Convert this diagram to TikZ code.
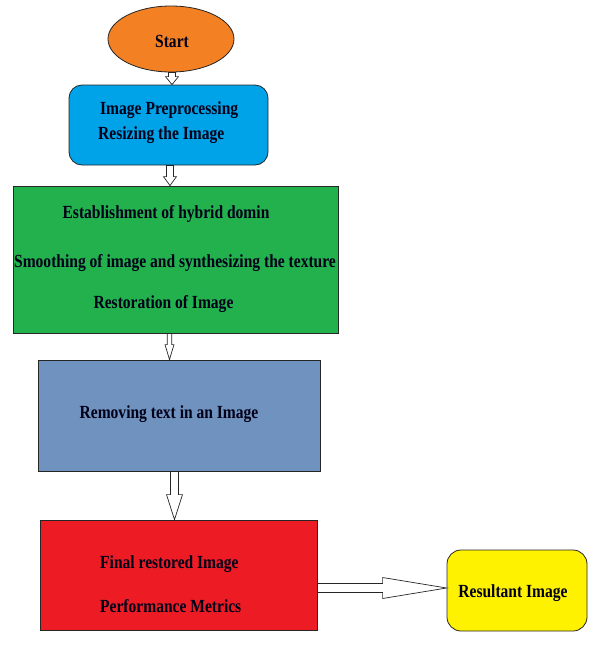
\documentclass[tikz,border=0pt]{standalone}
\usepackage{fontspec}
\setmainfont{Liberation Serif}[FakeStretch=0.84]
\usetikzlibrary{shapes.geometric,calc}
\definecolor{cstart}{RGB}{244,128,36}
\definecolor{cprep}{RGB}{0,162,232}
\definecolor{cgreen}{RGB}{34,177,76}
\definecolor{csteel}{RGB}{112,146,190}
\definecolor{cred}{RGB}{237,28,36}
\definecolor{cyellow}{RGB}{255,242,0}
\tikzset{
  box/.style={draw=black!85, line width=0.8pt, inner sep=0pt},
  txt/.style={font=\fontsize{18.5}{20}\selectfont\bfseries, inner sep=0pt, text=black!90!blue},
  blockarrow/.style={draw=black!85, fill=white, line width=0.7pt, line join=miter}
}
% vertical hollow block arrow: from, to, x, shaft half, head half, head length
\newcommand\blockdown[6]{%
  \draw[blockarrow] let \p1=(#1.south), \p2=(#2.north), \p3=(#3,0) in
    (\x3-#4,\y1) -- (\x3+#4,\y1) -- (\x3+#4,\y2+#6) -- (\x3+#5,\y2+#6) --
    (\x3,\y2) -- (\x3-#5,\y2+#6) -- (\x3-#4,\y2+#6) -- cycle;}
% horizontal hollow block arrow: from, to, y, shaft half, head half, head length
\newcommand\blockright[6]{%
  \draw[blockarrow] let \p1=(#1.east), \p2=(#2.west), \p3=(0,#3) in
    (\x1,\y3+#4) -- (\x2-#6,\y3+#4) -- (\x2-#6,\y3+#5) -- (\x2,\y3) --
    (\x2-#6,\y3-#5) -- (\x2-#6,\y3-#4) -- (\x1,\y3-#4) -- cycle;}
\begin{document}
\begin{tikzpicture}[x=1pt,y=-1pt]
\useasboundingbox[fill=white] (0,0) rectangle (590,649);

\node[box, ellipse, fill=cstart, minimum width=126pt, minimum height=66pt] (start) at (171,39) {};
\node[box, rounded corners=13pt, fill=cprep, minimum width=199pt, minimum height=80pt] (prep) at (168.5,125) {};
\node[box, fill=cgreen, minimum width=325pt, minimum height=147pt] (hyb) at (175.5,259.5) {};
\node[box, fill=csteel, minimum width=282pt, minimum height=111pt] (rem) at (179,415.5) {};
\node[box, fill=cred, minimum width=277pt, minimum height=110pt] (fin) at (178.5,575) {};
\node[box, rounded corners=14pt, fill=cyellow, minimum width=140pt, minimum height=81pt] (res) at (517,590.5) {};

\node[txt] (t0) at (172,41) {Start};
\node[txt, anchor=west] (t1) at (100,110) {Image Preprocessing};
\node[txt, anchor=west] (t2) at (98,135) {Resizing the Image};
\node[txt] (t3) at (166,214) {Establishment of hybrid domin};
\node[txt] (t4) at (175,263) {Smoothing of image and synthesizing the texture};
\node[txt] (t5) at (163.5,304) {Restoration of Image};
\node[txt] (t6) at (169,414) {Removing text in an Image};
\node[txt, anchor=west] (t7) at (100,564) {Final restored Image};
\node[txt, anchor=west] (t8) at (100,606) {Performance Metrics};
\node[txt] (t9) at (513,593) {Resultant Image};

\blockdown{start}{prep}{172}{3.5pt}{6.5pt}{8pt}
\blockdown{prep}{hyb}{170}{3.5pt}{6.5pt}{9pt}
\blockdown{hyb}{rem}{169.5}{2.3pt}{4.5pt}{15pt}
\blockdown{rem}{fin}{174.5}{4pt}{8pt}{25pt}
\blockright{fin}{res}{588}{4.5pt}{10.5pt}{64pt}
\end{tikzpicture}
\end{document}
